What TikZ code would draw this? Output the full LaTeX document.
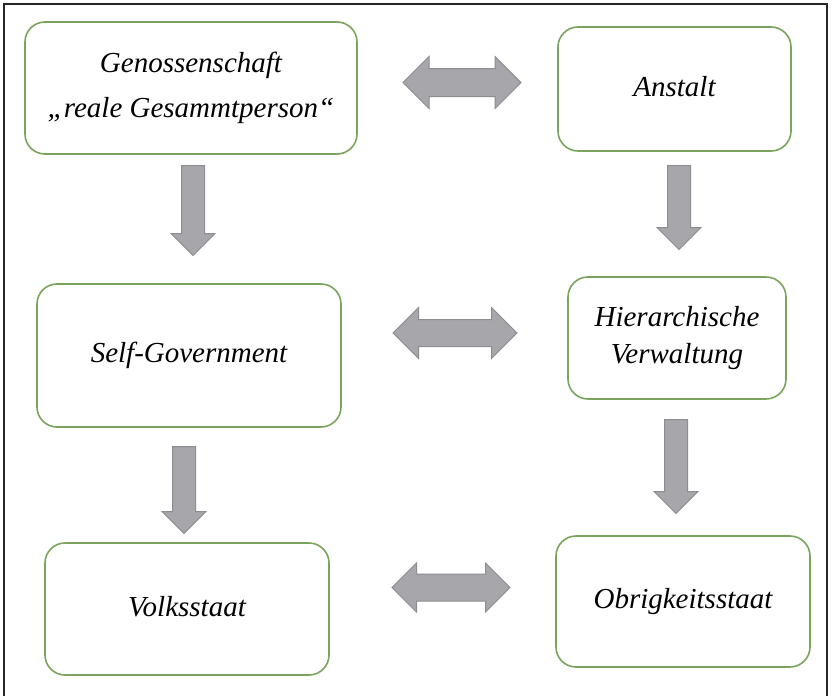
\documentclass[tikz,border=0pt]{standalone}
\usepackage{fontspec}
\setmainfont{Liberation Serif}
\usetikzlibrary{shapes.arrows}
\definecolor{boxgreen}{RGB}{122,164,92}
\definecolor{arrowgray}{RGB}{166,166,171}
\definecolor{arrowline}{RGB}{140,140,145}
\tikzset{
  term/.style={draw=boxgreen,line width=1.6pt,rounded corners=20pt,align=center,
    font=\fontsize{29}{45}\selectfont\itshape},
  oneline/.style={term,text height=20pt,text depth=6pt},
  downarrow/.style={single arrow,draw=arrowline,fill=arrowgray,line width=1pt,rotate=-90,anchor=tail,
    single arrow head extend=10.5pt,inner xsep=0pt,inner ysep=11pt},
  bothways/.style={double arrow,draw=arrowline,fill=arrowgray,line width=1pt,
    double arrow head extend=12pt,inner xsep=0pt,inner ysep=13.5pt},
}
\begin{document}
\begin{tikzpicture}[x=1pt,y=-1pt]
\useasboundingbox (0,0) rectangle (833,696);
\draw[line width=1.3pt,black!85] (4,696) -- (4,4) -- (827,4) -- (827,696);
\node[term,minimum width=332pt,minimum height=132pt] (gen) at (191,88) {Genossenschaft\\,,reale Gesammtperson``};
\node[oneline,minimum width=233pt,minimum height=124pt] (anst) at (674.5,89) {Anstalt};
\node[oneline,minimum width=304pt,minimum height=143pt] (self) at (189,355.5) {Self-Government};
\node[term,minimum width=218pt,minimum height=122pt,font=\fontsize{29}{37}\selectfont\itshape] (hier) at (677,338) {Hierarchische\\Verwaltung};
\node[oneline,minimum width=284pt,minimum height=132pt] (volk) at (187,609) {Volksstaat};
\node[oneline,minimum width=254pt,minimum height=131pt] (obrig) at (683,601.5) {Obrigkeitsstaat};
\node[downarrow,minimum height=90pt] (genself) at (193,165) {};
\node[downarrow,minimum height=84pt] (ansthier) at (679,165) {};
\node[downarrow,minimum height=87pt] (selfvolk) at (184,446) {};
\node[downarrow,minimum height=94pt] (hierobrig) at (676,419) {};
\node[bothways,minimum height=118pt] (genanst) at (462,82.5) {};
\node[bothways,minimum height=124pt,inner ysep=13pt] (selfhier) at (455,333) {};
\node[bothways,minimum height=118pt,inner ysep=13pt,double arrow head extend=11pt] (volkobrig) at (451,587.5) {};
\end{tikzpicture}
\end{document}
